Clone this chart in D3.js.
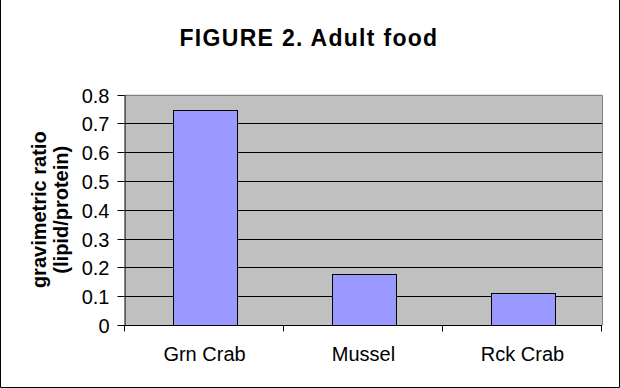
<!DOCTYPE html>
<html>
<head>
<meta charset="utf-8">
<script src="https://cdn.jsdelivr.net/npm/d3@7"></script>
<style>
  html, body { margin: 0; padding: 0; background: #fff; }
  svg { display: block; font-family: "Liberation Sans", Arial, sans-serif; }
</style>
</head>
<body>
<svg class="chart" width="620" height="388"></svg>
<script>
  "use strict";

  const CATEGORIES = ['Grn Crab', 'Mussel', 'Rck Crab'];
  const VALUES = [0.745, 0.177, 0.11];
  const Y_TICKS = [0, 0.1, 0.2, 0.3, 0.4, 0.5, 0.6, 0.7, 0.8];
  const TITLE = 'FIGURE 2. Adult food';
  const Y_LABEL = ['gravimetric ratio', '(lipid/protein)'];

  let svg = d3.select('.chart'),
    width = +svg.attr('width'),
    height = +svg.attr('height'),
    plotLeft = 125, plotRight = 602, plotTop = 94.5, plotBottom = 325;

  let x = d3.scaleBand().domain(CATEGORIES).range([plotLeft, plotRight]);
  let y = d3.scaleLinear().domain([0, 0.8]).range([plotBottom, plotTop]);
  let crisp = v => Math.round(v) + 0.5;

  // outer frame (left, right, bottom)
  svg.append('path')
    .attr('d', `M0.5,0 V${height - 0.5} H${width - 0.5} V0`)
    .attr('fill', 'none')
    .attr('stroke', '#000');

  // title
  svg.append('text')
    .attr('x', 309)
    .attr('y', 46)
    .attr('text-anchor', 'middle')
    .attr('font-size', 23)
    .attr('font-weight', 'bold')
    .attr('letter-spacing', 1.3)
    .text(TITLE);

  // plot background
  svg.append('rect')
    .attr('x', plotLeft)
    .attr('y', y(0.8))
    .attr('width', plotRight - plotLeft)
    .attr('height', y(0) - y(0.8))
    .attr('fill', '#c0c0c0');

  // gridlines
  svg.selectAll('.grid')
    .data(Y_TICKS.filter(d => d > 0 && d < 0.8))
    .enter()
    .append('line')
    .attr('x1', plotLeft)
    .attr('x2', plotRight)
    .attr('y1', d => crisp(y(d)))
    .attr('y2', d => crisp(y(d)))
    .attr('stroke', '#000');

  // plot border top + right
  svg.append('path')
    .attr('d', `M${plotLeft},${crisp(y(0.8))} H${crisp(plotRight)} V${crisp(y(0))}`)
    .attr('fill', 'none')
    .attr('stroke', '#808080');

  /*
   * bars
   */
  let barW = x.bandwidth() * 0.4;
  svg.selectAll('.bar')
    .data(VALUES)
    .enter()
    .append('rect')
    .attr('x', (d, i) => crisp(x(CATEGORIES[i]) + (x.bandwidth() - barW) / 2))
    .attr('y', d => crisp(y(d)))
    .attr('width', Math.round(barW))
    .attr('height', d => crisp(y(0)) - crisp(y(d)))
    .attr('fill', '#9999ff')
    .attr('stroke', '#000');

  /*
   * y axis
   */
  let yAxis = svg.append('g')
    .attr('transform', `translate(${crisp(plotLeft) - 1},0)`)
    .call(d3.axisLeft(y)
      .tickValues(Y_TICKS)
      .tickFormat(d3.format('~g'))
      .tickSize(7)
      .tickSizeOuter(0)
      .tickPadding(8));
  yAxis.selectAll('.tick').attr('transform', d => `translate(0,${crisp(y(d))})`);
  yAxis.select('.domain').attr('stroke', '#000');
  yAxis.selectAll('line').attr('stroke', '#000');
  yAxis.selectAll('text')
    .attr('font-size', 20)
    .attr('font-family', '"Liberation Sans", Arial, sans-serif')
    .attr('fill', '#000')
    .attr('dy', '0.35em');

  /*
   * x axis
   */
  let xEdges = CATEGORIES.map(c => x(c)).concat([plotRight]);
  svg.append('line')
    .attr('x1', plotLeft - 7)
    .attr('x2', plotRight)
    .attr('y1', crisp(y(0)))
    .attr('y2', crisp(y(0)))
    .attr('stroke', '#000');
  svg.selectAll('.xtick')
    .data(xEdges)
    .enter()
    .append('line')
    .attr('x1', d => crisp(d) - 1)
    .attr('x2', d => crisp(d) - 1)
    .attr('y1', crisp(y(0)))
    .attr('y2', crisp(y(0)) + 6)
    .attr('stroke', '#000');
  svg.selectAll('.xlabel')
    .data(CATEGORIES)
    .enter()
    .append('text')
    .attr('x', d => x(d) + x.bandwidth() / 2)
    .attr('y', 361)
    .attr('text-anchor', 'middle')
    .attr('font-size', 20)
    .text(d => d);

  // y axis title
  svg.append('g')
    .attr('transform', `translate(0,${(y(0) + y(0.8)) / 2}) rotate(-90)`)
    .selectAll('text')
    .data(Y_LABEL)
    .enter()
    .append('text')
    .attr('x', 0)
    .attr('y', (d, i) => 46 + i * 22)
    .attr('text-anchor', 'middle')
    .attr('font-size', 20)
    .attr('font-weight', 'bold')
    .text(d => d);
</script>
</body>
</html>
